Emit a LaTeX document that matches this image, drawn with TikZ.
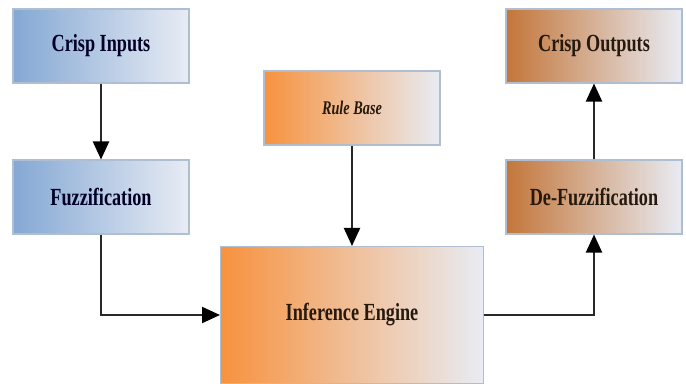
\documentclass[tikz,border=0pt]{standalone}
\usepackage{fontspec}
\setmainfont{Liberation Serif}[FakeStretch=0.74]
\usetikzlibrary{arrows.meta,positioning,calc}
\definecolor{colBlue}{RGB}{132,168,212}
\definecolor{colOrange}{RGB}{247,146,62}
\definecolor{colBrown}{RGB}{196,118,58}
\definecolor{colPale}{RGB}{232,236,244}
\definecolor{colEdge}{RGB}{176,190,210}
\definecolor{colLine}{RGB}{40,40,40}

\begin{document}
\begin{tikzpicture}[
  x=0.02cm, y=-0.02cm,
  every node/.style={font=\bfseries\fontsize{14}{16}\selectfont},
  block/.style={draw=colEdge,line width=0.6pt,minimum width=3.52cm,minimum height=1.48cm,align=center,right color=colPale},
  inblock/.style={block,left color=colBlue,text=black!85!blue},
  rulebox/.style={block,left color=colOrange,text=black!80!brown},
  outblock/.style={block,left color=colBrown,text=black!80!brown},
  arr/.style={draw=colLine,line width=1.2pt,-{Triangle[length=3.6mm,width=3.2mm,color=black]}}
]
\useasboundingbox (0,0) rectangle (686,383);
\clip (0,0) rectangle (686,383);
\node[inblock] (cin) at (101,46) {Crisp Inputs};
\node[inblock] (fuzz) at (101,197) {Fuzzification};
\node[rulebox] (rule) at (352,108) {\fontsize{11}{13}\selectfont\itshape Rule Base};
\node[rulebox,minimum width=5.26cm,minimum height=2.74cm] (inf) at (352,315) {Inference Engine};
\node[outblock] (cout) at (594,46) {Crisp Outputs};
\node[outblock] (defuzz) at (594,197) {De-Fuzzification};
\draw[arr] (cin) -- (fuzz);
\draw[arr] (fuzz.south) |- (inf.west);
\draw[arr] (rule) -- (inf);
\draw[arr] (inf.east) -| (defuzz.south);
\draw[arr] (defuzz) -- (cout);
\end{tikzpicture}
\end{document}
